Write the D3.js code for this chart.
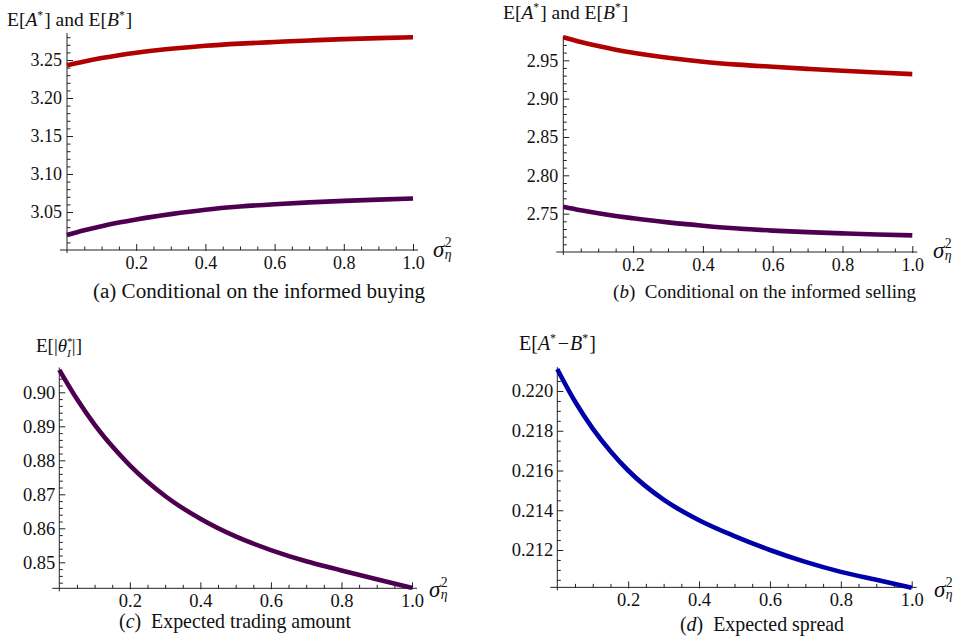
<!DOCTYPE html>
<html><head><meta charset="utf-8">
<script src="https://cdn.jsdelivr.net/npm/d3@7"></script>
<style>
html,body{margin:0;padding:0;background:#fff;}
svg text{font-family:"Liberation Serif","Times New Roman","DejaVu Serif",serif;fill:#111;}
</style></head>
<body><svg id="c" width="958" height="640"></svg>
<script>
// ---- data ----
const sigma2 = [0, 0.05, 0.1, 0.15, 0.2, 0.3, 0.4, 0.5, 0.6, 0.7, 0.8, 0.9, 1.0];
const askBuy  = [3.243, 3.2481, 3.2525, 3.2563, 3.2595, 3.2647, 3.2688, 3.2716, 3.2737, 3.2757, 3.2775, 3.2788, 3.2799];
const bidBuy  = [3.0197, 3.0260, 3.0314, 3.0361, 3.0402, 3.0472, 3.053, 3.0572, 3.0603, 3.0627, 3.0647, 3.0663, 3.0677];
const askSell = [2.980, 2.9738, 2.9685, 2.9639, 2.9599, 2.9533, 2.9482, 2.9444, 2.9415, 2.9388, 2.9363, 2.9341, 2.932];
const bidSell = [2.759, 2.7544, 2.7504, 2.7470, 2.7440, 2.7386, 2.7343, 2.7306, 2.7279, 2.7259, 2.7243, 2.7229, 2.7217];
const tradeAmt = [0.9066, 0.8980, 0.8905, 0.8841, 0.8785, 0.8695, 0.8628, 0.8576, 0.8536, 0.8503, 0.8476, 0.8450, 0.8425];
const spread   = [0.2211, 0.21947, 0.21811, 0.21697, 0.2160, 0.21453, 0.2135, 0.2127, 0.2120, 0.2114, 0.2109, 0.2105, 0.2101];
const xTicks = [0.2, 0.4, 0.6, 0.8, 1.0];
const yTicksA = [3.05, 3.10, 3.15, 3.20, 3.25];
const yTicksB = [2.75, 2.80, 2.85, 2.90, 2.95];
const yTicksC = [0.85, 0.86, 0.87, 0.88, 0.89, 0.90];
const yTicksD = [0.212, 0.214, 0.216, 0.218, 0.220];

const RED = "#b00000", PURPLE = "#4e0050", BLUE = "#0000a8";
const FONT = '"Liberation Serif","Times New Roman","DejaVu Serif",serif';
const svg = d3.select("#c");

function mkText(g, p, size) {
  return g.append("text")
    .attr("font-size", size * (p.s || 1))
    .attr("font-style", p.i ? "italic" : "normal")
    .style("font-family", FONT)
    .style("white-space", "pre")
    .text(p.t);
}
// rich text helper: parts placed sequentially
function rich(x, y, parts, size) {
  const g = svg.append("g");
  let cx = x;
  parts.forEach(p => {
    const t = mkText(g, p, size).attr("x", cx).attr("y", y + (p.dy || 0) * size);
    const w = t.node().getComputedTextLength();
    if (!p.stack) cx += w + (p.gap || 0) * size;
  });
  return cx - x;
}
function richCentered(cx, y, parts, size) {
  const tmp = svg.append("g").attr("opacity", 0);
  let w = 0;
  parts.forEach(p => {
    const t = mkText(tmp, p, size);
    if (!p.stack) w += t.node().getComputedTextLength() + (p.gap || 0) * size;
  });
  tmp.remove();
  rich(cx - w / 2, y, parts, size);
}

const sigmaParts = [
  {t: "σ", i: true, gap: 0.02},
  {t: "2", s: 0.6, dy: -0.42, stack: true},
  {t: "η", i: true, s: 0.6, dy: 0.1}
];

function panel(cfg) {
  const x = d3.scaleLinear().domain([0, 1]).range([cfg.x0, cfg.x1]);
  const y = d3.scaleLinear().domain(cfg.yDom).range(cfg.yRng);
  const yAxisPos = cfg.x0, xAxisPos = y(cfg.yBase);
  const fs = cfg.fs;

  // minor x ticks
  const xMinor = d3.range(1, 21).map(i => i * 0.05).filter(v => Math.abs(v * 5 - Math.round(v * 5)) > 1e-6);
  svg.append("g").attr("transform", `translate(0,${xAxisPos})`)
    .call(d3.axisBottom(x).tickValues(xMinor).tickSize(-3.5).tickFormat(""))
    .call(g => g.select(".domain").remove())
    .call(g => g.selectAll("line").attr("stroke", "#222"));
  svg.append("g").attr("transform", `translate(0,${xAxisPos})`)
    .call(d3.axisBottom(x).tickValues(xTicks).tickSize(-6).tickPadding(cfg.xPad).tickFormat(d3.format(".1f")))
    .call(g => g.select(".domain").remove())
    .call(g => g.selectAll("line").attr("stroke", "#222").attr("y2", -6).attr("y1", 1))
    .call(g => g.selectAll("text").attr("font-size", fs).style("font-family", FONT).attr("fill", "#111"));

  // minor y ticks
  const yMinor = [];
  for (let v = cfg.yBase; v <= cfg.yTopVal + 1e-9; v += cfg.minorStep) {
    const r = Math.round(v / cfg.minorStep) * cfg.minorStep;
    if (cfg.yTicks.every(t => Math.abs(t - r) > cfg.minorStep / 10) && r > cfg.yBase + 1e-9) yMinor.push(r);
  }
  svg.append("g").attr("transform", `translate(${yAxisPos},0)`)
    .call(d3.axisLeft(y).tickValues(yMinor).tickSize(-3.5).tickFormat(""))
    .call(g => g.select(".domain").remove())
    .call(g => g.selectAll("line").attr("stroke", "#222"));
  svg.append("g").attr("transform", `translate(${yAxisPos},0)`)
    .call(d3.axisLeft(y).tickValues(cfg.yTicks).tickSize(-6).tickPadding(cfg.yPad).tickFormat(d3.format(cfg.yFmt)))
    .call(g => g.select(".domain").remove())
    .call(g => g.selectAll("line").attr("stroke", "#222"))
    .call(g => g.selectAll("text").attr("font-size", fs).style("font-family", FONT).attr("fill", "#111"));

  // axis lines
  svg.append("line").attr("x1", cfg.x0 - 7).attr("x2", cfg.x1 + 5)
    .attr("y1", xAxisPos).attr("y2", xAxisPos).attr("stroke", "#222").attr("stroke-width", 1);
  svg.append("line").attr("x1", yAxisPos).attr("x2", yAxisPos)
    .attr("y1", y(cfg.yTopVal)).attr("y2", xAxisPos + 3).attr("stroke", "#222").attr("stroke-width", 1);

  // curves
  const line = d3.line().x((d, i) => x(sigma2[i])).y(d => y(d)).curve(d3.curveMonotoneX);
  cfg.series.forEach(s => {
    svg.append("path").datum(s.v).attr("d", line).attr("fill", "none")
      .attr("stroke", s.c).attr("stroke-width", 4.6);
  });

  // labels
  rich(cfg.ylab[0], cfg.ylab[1], cfg.ylabParts, cfg.lfs);
  rich(cfg.sig[0], cfg.sig[1], sigmaParts, 23);
  richCentered(cfg.cap[0], cfg.cap[1], cfg.capParts, cfg.cfs);
}

const yLabAB = [
  {t: "E["}, {t: "A", i: true}, {t: "*", s: 0.6, dy: -0.38, gap: 0.05}, {t: "] and E["},
  {t: "B", i: true}, {t: "*", s: 0.6, dy: -0.38, gap: 0.05}, {t: "]"}
];

panel({
  x0: 67, x1: 413, yDom: [3.00, 3.25], yRng: [250, 60], yBase: 3.00, yTopVal: 3.2855,
  yTicks: yTicksA, minorStep: 0.01, yFmt: ".2f", fs: 18, xPad: 6, yPad: 5,
  series: [{v: askBuy, c: RED}, {v: bidBuy, c: PURPLE}],
  ylab: [7, 26], ylabParts: yLabAB, lfs: 19.5,
  sig: [433, 257],
  cap: [259, 298], capParts: [{t: "(a) Conditional on the informed buying"}], cfs: 21.1
});
panel({
  x0: 563.3, x1: 912.3, yDom: [2.70, 2.95], yRng: [252, 60.3], yBase: 2.70, yTopVal: 2.982,
  yTicks: yTicksB, minorStep: 0.01, yFmt: ".2f", fs: 18, xPad: 6, yPad: 5,
  series: [{v: askSell, c: RED}, {v: bidSell, c: PURPLE}],
  ylab: [503, 18.5], ylabParts: yLabAB, lfs: 19.5,
  sig: [933, 258],
  cap: [764.5, 298], capParts: [{t: "("}, {t: "b", i: true}, {t: ")  Conditional on the informed selling"}], cfs: 19
});
panel({
  x0: 59.3, x1: 412, yDom: [0.85, 0.90], yRng: [562.3, 392.3], yBase: 0.84235, yTopVal: 0.9073,
  yTicks: yTicksC, minorStep: 0.002, yFmt: ".2f", fs: 18.5, xPad: 6, yPad: 4,
  series: [{v: tradeAmt, c: PURPLE}],
  ylab: [36, 352], ylabParts: [
    {t: "E[|"}, {t: "θ", i: true}, {t: "*", s: 0.6, dy: -0.38, stack: true},
    {t: "I", i: true, s: 0.6, dy: 0.25, gap: 0.05}, {t: "|]"}
  ], lfs: 19,
  sig: [429, 597],
  cap: [235, 628], capParts: [{t: "("}, {t: "c", i: true}, {t: ")  Expected trading amount"}], cfs: 19.9
});
panel({
  x0: 557.3, x1: 911.7, yDom: [0.212, 0.220], yRng: [550, 391], yBase: 0.21012, yTopVal: 0.2212,
  yTicks: yTicksD, minorStep: 0.0005, yFmt: ".3f", fs: 18.5, xPad: 6, yPad: 4,
  series: [{v: spread, c: BLUE}],
  ylab: [519, 350], ylabParts: [
    {t: "E["}, {t: "A", i: true}, {t: "*", s: 0.6, dy: -0.38, gap: 0.08}, {t: "−", gap: 0.05},
    {t: "B", i: true}, {t: "*", s: 0.6, dy: -0.38, gap: 0.05}, {t: "]"}
  ], lfs: 20,
  sig: [934, 597],
  cap: [762, 631], capParts: [{t: "("}, {t: "d", i: true}, {t: ")  Expected spread"}], cfs: 19.9
});
</script>
</body></html>
